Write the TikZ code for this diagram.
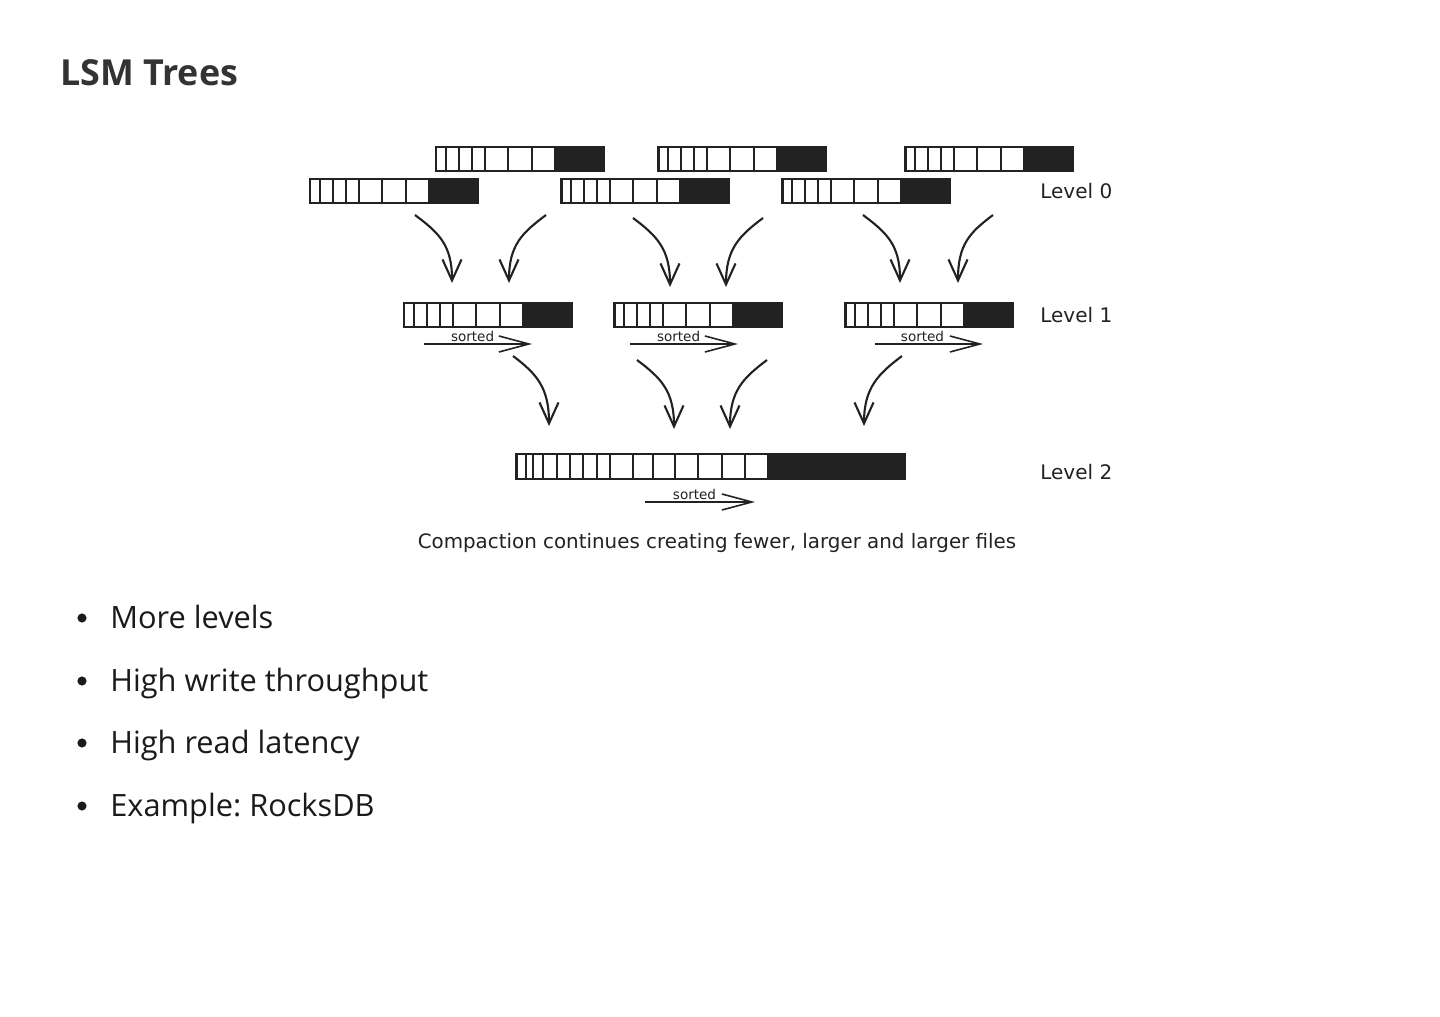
\documentclass[tikz,border=0pt]{standalone}
\usepackage{fontspec}
\setmainfont{Open Sans}
\newfontfamily\sketchfont{DejaVu Sans}
\usepackage{tikz}
\usetikzlibrary{arrows.meta, calc}

\definecolor{ink}{HTML}{222222}
\definecolor{titlegray}{HTML}{333333}
\definecolor{bodytext}{HTML}{1A1A1A}

% cells of one sorted file: node, divider offsets, start of the black part
\newcommand{\filecells}[3]{%
  \fill[ink] ($(#1.north west)+(#3,0)$) rectangle (#1.south east);
  \foreach \d in {#2}
    \draw[cellsep] ($(#1.north west)+(\d,0)$) -- ($(#1.south west)+(\d,0)$);
}

\begin{document}
\frenchspacing
\begin{tikzpicture}[
    x=0.02cm, y=-0.02cm,
    sstable/.style={rectangle, draw=ink, line width=1.7pt, inner sep=0pt, outer sep=0pt,
                    anchor=north west, minimum width=3.36cm, minimum height=0.48cm},
    bigtable/.style={sstable, minimum width=7.78cm, minimum height=0.5cm},
    cellsep/.style={draw=ink, line width=1.1pt},
    merge/.style={draw=ink, line width=1.2pt, -{Straight Barb[length=4.2mm, width=3.8mm]}},
    sortedarrow/.style={draw=ink, line width=0.9pt, -{Straight Barb[length=6mm, width=3.2mm]}},
    levellabel/.style={anchor=west, inner sep=0pt, text=ink, font=\sketchfont\fontsize{11.4}{13}\selectfont},
    sortedlabel/.style={inner sep=1pt, text=ink, font=\sketchfont\fontsize{7.7}{9}\selectfont},
    item/.style={anchor=base west, inner sep=0pt, text=bodytext, font=\fontsize{17.5}{21}\selectfont}
]
\fill[white] (0,0) rectangle (1440,1017);
\useasboundingbox (0,0) rectangle (1440,1017);

% Title
\node[anchor=base west, inner sep=0pt, text=titlegray, font=\bfseries\fontsize{20.4}{24}\selectfont] (title) at (60,86) {LSM Trees};

% Level 0 - two staggered rows of small files
\node[sstable] (t1) at (436,147) {};
\node[sstable] (t2) at (658,147) {};
\node[sstable] (t3) at (905,147) {};
\node[sstable] (b1) at (310,179) {};
\node[sstable] (b2) at (561,179) {};
\node[sstable] (b3) at (782,179) {};
\foreach \f in {t1,t2,t3,b1,b2,b3}
  \filecells{\f}{10,23,36,49,72,96}{118};
\node[levellabel] (lv0) at (1040,191) {Level 0};

% Level 1
\node[sstable] (m1) at (404,303) {};
\node[sstable] (m2) at (614,303) {};
\node[sstable] (m3) at (845,303) {};
\foreach \f in {m1,m2,m3}
  \filecells{\f}{10,23,36,49,72,96}{118};
\node[levellabel] (lv1) at (1040,315) {Level 1};

\draw[sortedarrow] ($(m1.south west)+(20,17)$) -- node[sortedlabel, above, pos=0.45] (s1) {sorted} ($(m1.south west)+(128,17)$);
\draw[sortedarrow] ($(m2.south west)+(16,17)$) -- node[sortedlabel, above, pos=0.45] (s2) {sorted} ($(m2.south west)+(124,17)$);
\draw[sortedarrow] ($(m3.south west)+(30,17)$) -- node[sortedlabel, above, pos=0.44] (s3) {sorted} ($(m3.south west)+(138,17)$);

% Level 2 - one large file
\node[bigtable] (big) at (516,454) {};
\filecells{big}{10,17,27,41,54,67,81,94,117,137,159,182,206,229}{251}
\node[levellabel] (lv2) at (1040,472) {Level 2};
\draw[sortedarrow] ($(big.south west)+(129,23)$) -- node[sortedlabel, above, pos=0.45] (s4) {sorted} ($(big.south west)+(239,23)$);

% Compaction arrows, level 0 -> level 1
\draw[merge] ($(b1.south west)+(105,12)$) .. controls +(24,18) and +(0,-38) .. ($(m1.north west)+(48,-20)$);
\draw[merge] ($(t1.south west)+(110,44)$) .. controls +(-24,18) and +(0,-38) .. ($(m1.north west)+(105,-20)$);
\draw[merge] ($(b2.south west)+(72,15)$) .. controls +(24,18) and +(0,-38) .. ($(m2.north west)+(56,-16)$);
\draw[merge] ($(t2.south west)+(105,47)$) .. controls +(-24,18) and +(0,-38) .. ($(m2.north west)+(112,-16)$);
\draw[merge] ($(b3.south west)+(81,12)$) .. controls +(24,18) and +(0,-38) .. ($(m3.north west)+(55,-20)$);
\draw[merge] ($(t3.south west)+(88,44)$) .. controls +(-24,18) and +(0,-38) .. ($(m3.north west)+(113,-20)$);

% Compaction arrows, level 1 -> level 2
\draw[merge] ($(m1.south west)+(109,29)$) .. controls +(24,18) and +(0,-38) .. ($(big.north west)+(33,-28)$);
\draw[merge] ($(m2.south west)+(23,33)$) .. controls +(24,18) and +(0,-38) .. ($(big.north west)+(158,-25)$);
\draw[merge] ($(m2.south west)+(153,33)$) .. controls +(-24,18) and +(0,-38) .. ($(big.north west)+(214,-25)$);
\draw[merge] ($(m3.south west)+(57,29)$) .. controls +(-24,18) and +(0,-38) .. ($(big.north west)+(348,-28)$);

% Caption
\node[text=ink, font=\sketchfont\fontsize{11.3}{13}\selectfont] (caption) at (717,543) {Compaction continues creating fewer, larger and larger files};

% Bullet list
\node[item] (i1) at (110,628) {More levels};
\node[item] (i2) at (110,691) {High write throughput};
\node[item] (i3) at (110,753) {High read latency};
\node[item] (i4) at (110,816) {Example: RocksDB};
\foreach \i in {i1,i2,i3,i4}
  \fill[bodytext] ($(\i.base west)+(-28,-10)$) circle[radius=2.6pt];

\end{tikzpicture}
\end{document}
